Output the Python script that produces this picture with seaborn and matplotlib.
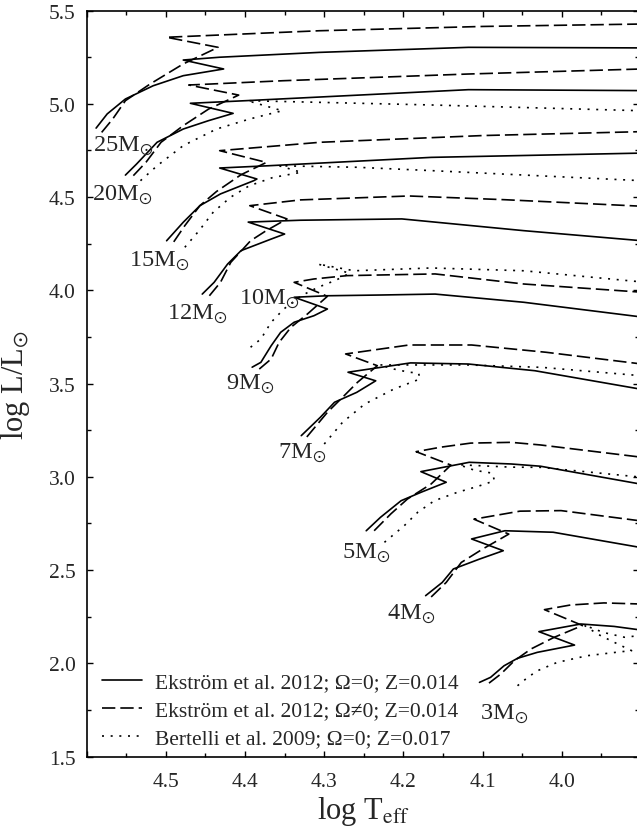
import matplotlib
matplotlib.use("Agg")
import matplotlib.pyplot as plt
from matplotlib.ticker import MultipleLocator, AutoMinorLocator, FuncFormatter
from matplotlib.lines import Line2D
import seaborn as sns
import pandas as pd

# ---------------- data: (log Teff, log L) along each track ----------------
# Ekström et al. 2012, Omega = 0 (solid)
s25_T = [4.588, 4.574, 4.551, 4.516, 4.478, 4.427, 4.478, 4.432, 4.306, 4.118, 3.899]
s25_L = [4.870, 4.946, 5.026, 5.097, 5.151, 5.187, 5.235, 5.250, 5.276, 5.303, 5.300]
s20_T = [4.551, 4.537, 4.511, 4.478, 4.446, 4.415, 4.469, 4.399, 4.118, 3.899]
s20_L = [4.618, 4.677, 4.794, 4.865, 4.910, 4.949, 5.003, 5.017, 5.076, 5.071]
s15_T = [4.499, 4.478, 4.457, 4.431, 4.389, 4.385, 4.432, 4.371, 4.165, 3.899]
s15_L = [4.266, 4.365, 4.454, 4.517, 4.588, 4.597, 4.656, 4.668, 4.713, 4.736]
s12_T = [4.454, 4.439, 4.422, 4.405, 4.367, 4.350, 4.396, 4.330, 4.202, 4.048, 3.899]
s12_L = [3.980, 4.043, 4.141, 4.213, 4.275, 4.302, 4.366, 4.376, 4.383, 4.320, 4.266]
s9_T = [4.391, 4.380, 4.367, 4.355, 4.338, 4.313, 4.296, 4.338, 4.296, 4.229, 4.160, 4.048, 3.899]
s9_L = [3.588, 3.614, 3.703, 3.775, 3.829, 3.864, 3.900, 3.963, 3.971, 3.975, 3.980, 3.936, 3.857]
s7_T = [4.329, 4.305, 4.287, 4.259, 4.235, 4.270, 4.191, 4.118, 4.034, 3.899]
s7_L = [3.221, 3.319, 3.400, 3.453, 3.515, 3.561, 3.611, 3.605, 3.569, 3.469]
s5_T = [4.247, 4.229, 4.203, 4.178, 4.146, 4.178, 4.117, 4.064, 4.027, 3.899]
s5_L = [2.711, 2.783, 2.872, 2.917, 2.971, 3.028, 3.078, 3.069, 3.057, 2.960]
s4_T = [4.172, 4.151, 4.137, 4.104, 4.074, 4.114, 4.072, 4.011, 3.899]
s4_L = [2.363, 2.434, 2.506, 2.559, 2.604, 2.667, 2.711, 2.703, 2.620]
s3_T = [4.104, 4.090, 4.073, 4.056, 4.031, 3.984, 4.029, 3.976, 3.934, 3.899]
s3_L = [1.898, 1.925, 1.987, 2.027, 2.059, 2.098, 2.170, 2.211, 2.198, 2.178]

# Ekström et al. 2012, Omega != 0 (dashed)
d25_T = [4.581, 4.567, 4.551, 4.520, 4.478, 4.434, 4.499, 4.306, 4.100, 3.899]
d25_L = [4.847, 4.919, 5.017, 5.106, 5.214, 5.303, 5.357, 5.392, 5.415, 5.428]
d20_T = [4.541, 4.525, 4.506, 4.478, 4.446, 4.408, 4.471, 4.352, 4.118, 3.899]
d20_L = [4.615, 4.687, 4.794, 4.883, 4.972, 5.047, 5.101, 5.124, 5.160, 5.187]
d15_T = [4.490, 4.476, 4.457, 4.436, 4.405, 4.373, 4.432, 4.305, 4.100, 3.899]
d15_L = [4.260, 4.347, 4.454, 4.530, 4.620, 4.686, 4.749, 4.794, 4.830, 4.851]
d12_T = [4.445, 4.431, 4.418, 4.393, 4.374, 4.347, 4.394, 4.330, 4.193, 4.072, 3.899]
d12_L = [3.971, 4.043, 4.150, 4.266, 4.318, 4.383, 4.454, 4.485, 4.506, 4.486, 4.451]
d9_T = [4.382, 4.367, 4.357, 4.342, 4.321, 4.296, 4.338, 4.313, 4.271, 4.160, 4.048, 3.899]
d9_L = [3.578, 3.632, 3.721, 3.802, 3.874, 3.968, 4.043, 4.061, 4.079, 4.088, 4.034, 3.990]
d7_T = [4.322, 4.296, 4.277, 4.258, 4.233, 4.273, 4.193, 4.114, 4.020, 3.899]
d7_L = [3.214, 3.346, 3.426, 3.507, 3.596, 3.659, 3.707, 3.707, 3.668, 3.605]
d5_T = [4.237, 4.216, 4.195, 4.165, 4.140, 4.184, 4.153, 4.115, 4.064, 4.027, 3.899]
d5_L = [2.711, 2.801, 2.881, 2.962, 3.063, 3.135, 3.159, 3.181, 3.185, 3.171, 3.105]
d4_T = [4.165, 4.146, 4.127, 4.100, 4.067, 4.111, 4.053, 4.001, 3.899]
d4_L = [2.356, 2.434, 2.541, 2.613, 2.693, 2.773, 2.816, 2.819, 2.763]
d3_T = [4.092, 4.077, 4.060, 4.039, 4.010, 3.974, 4.022, 3.989, 3.947, 3.899]
d3_L = [1.894, 1.943, 2.014, 2.077, 2.139, 2.203, 2.288, 2.313, 2.324, 2.318]

# Bertelli et al. 2009, Omega = 0 (dotted)
b20_T = [4.532, 4.511, 4.478, 4.436, 4.394, 4.353, 4.397, 4.305, 4.165, 3.899]
b20_L = [4.588, 4.668, 4.776, 4.865, 4.919, 4.963, 5.017, 5.008, 4.994, 4.963]
b15_T = [4.476, 4.458, 4.440, 4.418, 4.395, 4.365, 4.329, 4.357, 4.259, 4.165, 3.899]
b15_L = [4.231, 4.320, 4.420, 4.500, 4.560, 4.605, 4.633, 4.668, 4.660, 4.642, 4.588]
b10_T = [4.393, 4.380, 4.367, 4.351, 4.329, 4.308, 4.285, 4.268, 4.308, 4.262, 4.165, 4.048, 3.899]
b10_L = [3.695, 3.739, 3.829, 3.900, 3.971, 4.016, 4.055, 4.092, 4.141, 4.105, 4.120, 4.105, 4.045]
b7_T = [4.300, 4.277, 4.249, 4.212, 4.179, 4.181, 4.193, 4.212, 4.230, 4.165, 4.118, 4.025, 3.899]
b7_L = [3.176, 3.292, 3.390, 3.471, 3.525, 3.557, 3.561, 3.578, 3.600, 3.600, 3.600, 3.587, 3.542]
b5_T = [4.224, 4.199, 4.182, 4.161, 4.132, 4.106, 4.085, 4.088, 4.110, 4.130, 4.064, 4.027, 3.899]
b5_L = [2.649, 2.738, 2.810, 2.872, 2.917, 2.949, 2.979, 3.020, 3.035, 3.065, 3.052, 3.051, 2.998]
b3_T = [4.056, 4.043, 4.031, 4.006, 3.968, 3.926, 3.912, 3.934, 3.955, 3.972, 3.947, 3.921, 3.899]
b3_L = [1.880, 1.925, 1.960, 2.005, 2.041, 2.062, 2.068, 2.113, 2.157, 2.205, 2.165, 2.140, 2.150]

models = ["Ekström et al. 2012; Ω=0; Z=0.014",
          "Ekström et al. 2012; Ω≠0; Z=0.014",
          "Bertelli et al. 2009; Ω=0; Z=0.017"]

tracks = [
    (models[0], 25, s25_T, s25_L), (models[0], 20, s20_T, s20_L), (models[0], 15, s15_T, s15_L),
    (models[0], 12, s12_T, s12_L), (models[0], 9, s9_T, s9_L), (models[0], 7, s7_T, s7_L),
    (models[0], 5, s5_T, s5_L), (models[0], 4, s4_T, s4_L), (models[0], 3, s3_T, s3_L),
    (models[1], 25, d25_T, d25_L), (models[1], 20, d20_T, d20_L), (models[1], 15, d15_T, d15_L),
    (models[1], 12, d12_T, d12_L), (models[1], 9, d9_T, d9_L), (models[1], 7, d7_T, d7_L),
    (models[1], 5, d5_T, d5_L), (models[1], 4, d4_T, d4_L), (models[1], 3, d3_T, d3_L),
    (models[2], 20, b20_T, b20_L), (models[2], 15, b15_T, b15_L), (models[2], 10, b10_T, b10_L),
    (models[2], 7, b7_T, b7_L), (models[2], 5, b5_T, b5_L), (models[2], 3, b3_T, b3_L),
]

# mass labels
mass_labels = ["25", "20", "15", "12", "10", "9", "7", "5", "4", "3"]
label_T = [4.5914, 4.5928, 4.546, 4.499, 4.408, 4.4245, 4.359, 4.277, 4.221, 4.103]
label_L = [4.749, 4.4845, 4.132, 3.846, 3.927, 3.471, 3.105, 2.569, 2.238, 1.702]

# labelled x ticks
x_tick_labels = [4.5, 4.4, 4.3, 4.2, 4.1, 4.0]

rows = []
for i, (model, mass, T, L) in enumerate(tracks):
    for k, (t, l) in enumerate(zip(T, L)):
        rows.append({"model": model, "mass": mass, "track": i, "order": k,
                     "logT": t, "logL": l})
df = pd.DataFrame(rows)

# ---------------- style ----------------
sns.set_style("ticks")
plt.rcParams["font.family"] = ["Liberation Serif", "DejaVu Serif"]
plt.rcParams["mathtext.fontset"] = "stix"
plt.rcParams["xtick.direction"] = "in"
plt.rcParams["ytick.direction"] = "in"

fig = plt.figure(figsize=(6.37, 8.29), dpi=100)
ax = fig.add_axes([86.6 / 637, (829 - 757.6) / 829, 552.9 / 637, (757.6 - 11.6) / 829])

LW = 1.2
dash_map = {models[0]: "", models[1]: (8, 3), models[2]: (1.2, 4)}

sns.lineplot(data=df, x="logT", y="logL", units="track", style="model",
             style_order=models, dashes=dash_map, estimator=None, sort=False,
             color="black", linewidth=LW, legend=False, ax=ax)

ax.set_xlim(4.6, 3.902)
ax.set_ylim(1.5, 5.5)


def xfmt(v, pos):
    for t in x_tick_labels:
        if abs(v - t) < 1e-6:
            return "%.1f" % t
    return ""


ax.xaxis.set_major_locator(MultipleLocator(0.1))
ax.xaxis.set_minor_locator(AutoMinorLocator(2))
ax.yaxis.set_major_locator(MultipleLocator(0.5))
ax.yaxis.set_minor_locator(AutoMinorLocator(2))
ax.xaxis.set_major_formatter(FuncFormatter(xfmt))
ax.yaxis.set_major_formatter(FuncFormatter(lambda v, p: "%.1f" % v))
ax.tick_params(which="both", direction="in", top=True, right=True, width=1.0, color="black")
ax.tick_params(which="major", length=4.5)
ax.tick_params(which="minor", length=3)
ax.tick_params(axis="x", which="major", labelsize=15.5, pad=11)
ax.tick_params(axis="y", which="major", labelsize=15.5, pad=8)
for sp in ax.spines.values():
    sp.set_color("black")
    sp.set_linewidth(1.2)
ax.spines["right"].set_visible(False)

ax.set_xlabel("log T$_{\\rm eff}$", fontsize=22, labelpad=2)
ax.set_ylabel("log L/L$_{\\odot}$", fontsize=22, labelpad=12)

for m, t, l in zip(mass_labels, label_T, label_L):
    ax.text(t, l, m + "M$_{\\odot}$", fontsize=17.5, ha="left", va="baseline")

handles = [Line2D([], [], color="black", lw=LW, linestyle="-"),
           Line2D([], [], color="black", lw=LW, dashes=(8, 3)),
           Line2D([], [], color="black", lw=LW, dashes=(1.2, 4))]
ax.legend(handles, models, loc="lower left", bbox_to_anchor=(0.02, 0.005),
          frameon=False, fontsize=15.5, handlelength=1.85, handletextpad=0.6,
          labelspacing=0.38, borderaxespad=0.0, borderpad=0.2)

fig.savefig("out.png", dpi=100)
